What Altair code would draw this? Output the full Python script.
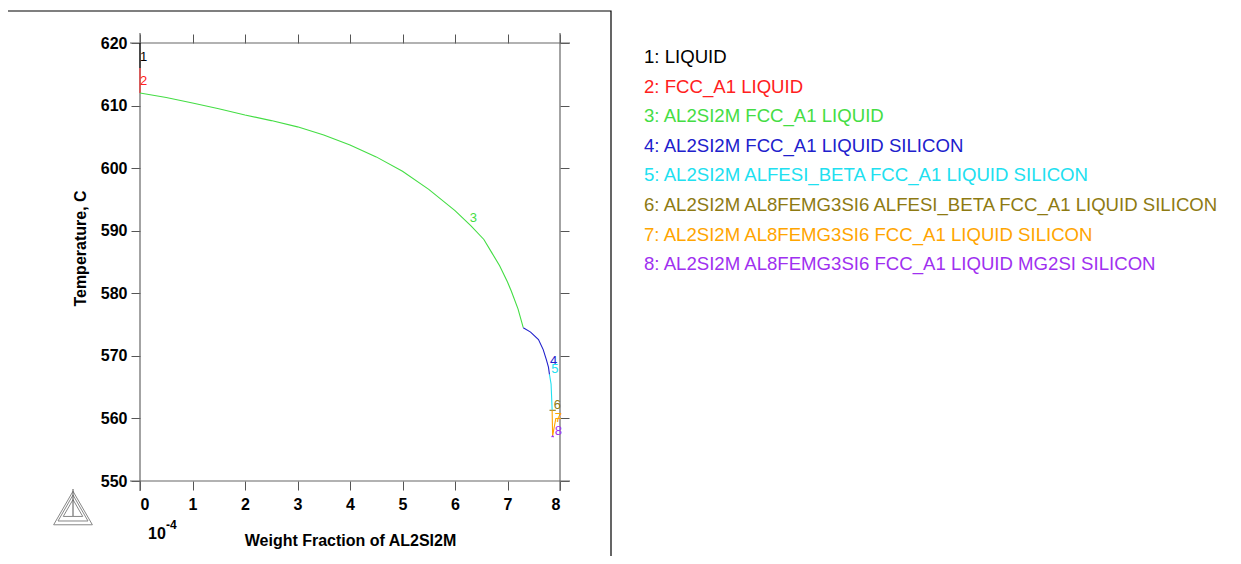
import altair as alt
import pandas as pd

# ---- curve data (x in units of 1e-4 weight fraction, T in C) ----
l1_x = [0.0, 0.0]
l1_t = [620.0, 616.0]
l2_x = [0.0, 0.0]
l2_t = [616.0, 612.0]
l3_x = [0.0, 0.5, 1.0, 1.5, 2.0, 2.5, 3.0, 3.5, 4.0, 4.5, 5.0, 5.5, 6.0,
        6.3, 6.55, 6.7, 6.85, 7.0, 7.07, 7.2, 7.30]
l3_t = [612.0, 611.3, 610.4, 609.5, 608.5, 607.6, 606.6, 605.3, 603.7, 601.8,
        599.5, 596.6, 593.2, 590.8, 588.6, 586.5, 584.4, 581.8, 580.4, 577.5, 574.5]
l4_x = [7.30, 7.44, 7.59, 7.68, 7.74, 7.78, 7.80]
l4_t = [574.5, 573.8, 572.6, 571.0, 569.4, 568.2, 567.0]
l5_x = [7.80, 7.83, 7.84, 7.85]
l5_t = [567.0, 565.5, 563.5, 561.4]
l6_x = [7.80, 7.92]
l6_t = [561.3, 561.3]
l7_x = [7.85, 7.86, 7.92, 8.02]
l7_t = [561.3, 557.2, 560.0, 560.0]
l8_x = [7.84, 7.86, 7.88]
l8_t = [557.0, 557.2, 557.0]

series_ids = ["1", "2", "3", "4", "5", "6", "7", "8"]
series_colors = ["#000000", "#FF2020", "#44DD44", "#2020CC", "#20E0F0",
                 "#8E7A12", "#FFA500", "#A030F0"]
legend_texts = [
    "1: LIQUID",
    "2: FCC_A1 LIQUID",
    "3: AL2SI2M FCC_A1 LIQUID",
    "4: AL2SI2M FCC_A1 LIQUID SILICON",
    "5: AL2SI2M ALFESI_BETA FCC_A1 LIQUID SILICON",
    "6: AL2SI2M AL8FEMG3SI6 ALFESI_BETA FCC_A1 LIQUID SILICON",
    "7: AL2SI2M AL8FEMG3SI6 FCC_A1 LIQUID SILICON",
    "8: AL2SI2M AL8FEMG3SI6 FCC_A1 LIQUID MG2SI SILICON",
]
legend_colors = ["#000000", "#FF0000", "#22DD22", "#0000EE", "#00EEEE",
                 "#857012", "#FFA500", "#A030F0"]

label_x = [0.07, 0.07, 6.35, 7.88, 7.90, 7.95, 7.97, 7.97]
label_t = [617.8, 613.9, 592.1, 569.1, 567.9, 562.2, 560.0, 558.0]

x_ticks = [0, 1, 2, 3, 4, 5, 6, 7, 8]
y_ticks = [550, 560, 570, 580, 590, 600, 610, 620]

rows = []
for sid, xs, ts in zip(series_ids,
                       [l1_x, l2_x, l3_x, l4_x, l5_x, l6_x, l7_x, l8_x],
                       [l1_t, l2_t, l3_t, l4_t, l5_t, l6_t, l7_t, l8_t]):
    for i, (xv, tv) in enumerate(zip(xs, ts)):
        rows.append({"s": sid, "i": i, "x": xv, "t": tv})
curves = pd.DataFrame(rows)
labels = pd.DataFrame({"s": series_ids, "x": label_x, "t": label_t})
legend = pd.DataFrame({"s": series_ids, "txt": legend_texts,
                       "idx": list(range(len(legend_texts)))})

W, H = 420, 438
FONT = "Liberation Sans"

xscale = alt.Scale(domain=[0, 8], nice=False, zero=False)
yscale = alt.Scale(domain=[550, 620], nice=False, zero=False)
cscale = alt.Scale(domain=series_ids, range=series_colors)
lscale = alt.Scale(domain=series_ids, range=legend_colors)

axis_common = dict(domain=False, grid=False, tickColor="#555555", tickSize=9,
                   tickWidth=1, labelFont=FONT, labelFontSize=16,
                   labelFontWeight="bold", labelColor="#000000",
                   titleFont=FONT, titleFontSize=16, titleFontWeight="bold",
                   titleColor="#000000")

lines = alt.Chart(curves).mark_line(strokeWidth=1.1, clip=False).encode(
    x=alt.X("x:Q", scale=xscale,
            axis=alt.Axis(orient="bottom", values=x_ticks, format="d",
                          title="Weight Fraction of AL2SI2M", labelPadding=6,
                          titleY=59, titleBaseline="middle", **axis_common)),
    y=alt.Y("t:Q", scale=yscale,
            axis=alt.Axis(orient="left", values=y_ticks, format="d",
                          title="Temperature, C", labelPadding=4,
                          titleX=-60, titleY=205, titleBaseline="middle",
                          **axis_common)),
    color=alt.Color("s:N", scale=cscale, legend=None),
    detail="s:N",
    order="i:Q",
)

# top / right tick-only axes
ticks2 = alt.Chart(curves).mark_point(opacity=0).encode(
    x=alt.X("x:Q", scale=xscale,
            axis=alt.Axis(orient="top", values=x_ticks, labels=False, title=None,
                          **axis_common)),
    y=alt.Y("t:Q", scale=yscale,
            axis=alt.Axis(orient="right", values=y_ticks, labels=False, title=None,
                          **axis_common)),
)

curve_labels = alt.Chart(labels).mark_text(
    font=FONT, fontSize=13, align="center", baseline="middle").encode(
    x=alt.X("x:Q", scale=xscale, axis=None),
    y=alt.Y("t:Q", scale=yscale, axis=None),
    text="s:N",
    color=alt.Color("s:N", scale=cscale, legend=None),
)

# frame lines, extending slightly past corners
frame_df = pd.DataFrame({"k": ["top", "bottom", "left", "right"]})
frame_top = alt.Chart(frame_df).transform_filter("datum.k=='top'").mark_rule(
    color="#666666", strokeWidth=1.2).encode(
    x=alt.value(-10), x2=alt.value(W + 10), y=alt.value(0))
frame_bot = alt.Chart(frame_df).transform_filter("datum.k=='bottom'").mark_rule(
    color="#666666", strokeWidth=1.2).encode(
    x=alt.value(-10), x2=alt.value(W + 10), y=alt.value(H))
frame_left = alt.Chart(frame_df).transform_filter("datum.k=='left'").mark_rule(
    color="#666666", strokeWidth=1.2).encode(
    x=alt.value(0), y=alt.value(-10), y2=alt.value(H + 10))
frame_right = alt.Chart(frame_df).transform_filter("datum.k=='right'").mark_rule(
    color="#666666", strokeWidth=1.2).encode(
    x=alt.value(W), y=alt.value(-10), y2=alt.value(H + 10))

# outer black border box
border = alt.Chart(frame_df).transform_filter("datum.k=='top'").mark_rect(
    fill=None, stroke="#000000", strokeWidth=1.2).encode(
    x=alt.value(-133), x2=alt.value(471), y=alt.value(-32), y2=alt.value(540))

# exponent label 10^-4
exp_df = pd.DataFrame({"base": ["10"], "sup": ["-4"]})
exp_base = alt.Chart(exp_df).mark_text(
    font=FONT, fontSize=16, fontWeight="bold", align="left",
    baseline="middle").encode(x=alt.value(8), y=alt.value(491), text="base:N")
exp_sup = alt.Chart(exp_df).mark_text(
    font=FONT, fontSize=12, fontWeight="bold", align="left",
    baseline="middle").encode(x=alt.value(26), y=alt.value(482), text="sup:N")

# legend text block to the right
legend_text = alt.Chart(legend).transform_calculate(
    py="14 + datum.idx * 29.6").mark_text(
    font=FONT, fontSize=18.6, align="left", baseline="middle").encode(
    x=alt.value(504),
    y=alt.Y("py:Q", scale=None, axis=None),
    text="txt:N",
    color=alt.Color("s:N", scale=lscale, legend=None),
)

# Thermo-Calc style triangle logo
logo_df = pd.DataFrame({"sz": [1500, 900, 380]})
logo = alt.Chart(logo_df).mark_point(
    shape="triangle-up", filled=False, color="#555555", strokeWidth=1).encode(
    x=alt.value(-67), y=alt.value(465), size=alt.Size("sz:Q", scale=None))
logo_stem = alt.Chart(frame_df).transform_filter("datum.k=='top'").mark_rule(
    color="#555555", strokeWidth=1).encode(
    x=alt.value(-67), y=alt.value(446), y2=alt.value(473))

chart = alt.layer(
    border, frame_top, frame_bot, frame_left, frame_right,
    ticks2, lines, curve_labels, exp_base, exp_sup, legend_text, logo, logo_stem,
).resolve_axis(x="independent", y="independent").properties(
    width=W, height=H,
    autosize=alt.AutoSizeParams(type="none"),
    padding={"left": 132, "top": 35, "right": 673, "bottom": 75},
).configure_view(stroke=None)

chart.save("out.html", embed_options={"renderer": "svg", "actions": False})
